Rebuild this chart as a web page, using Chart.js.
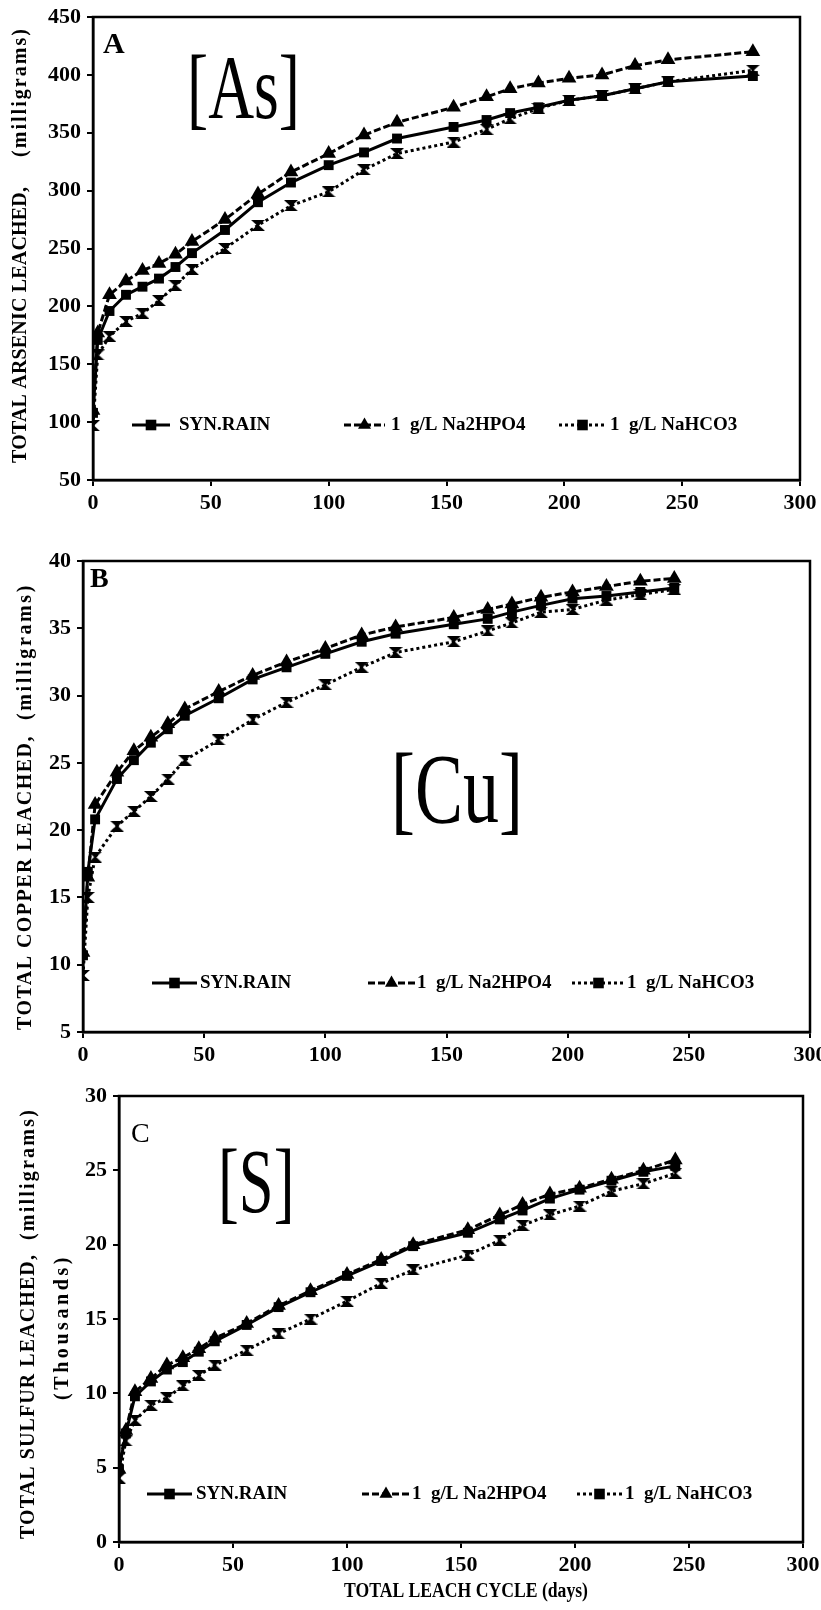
<!DOCTYPE html>
<html>
<head>
<meta charset="utf-8">
<script src="https://cdn.jsdelivr.net/npm/chart.js@4.4.1/dist/chart.umd.min.js"></script>
<style>
  html, body { margin: 0; padding: 0; background: #fff; }
  body { width: 821px; height: 1610px; position: relative; overflow: hidden; }
  .panel { position: absolute; left: 0; }
</style>
</head>
<body>
<div class="panel" style="top:0"><canvas id="chartA" width="821" height="520"></canvas></div>
<div class="panel" style="top:520px"><canvas id="chartB" width="821" height="545"></canvas></div>
<div class="panel" style="top:1065px"><canvas id="chartC" width="821" height="545"></canvas></div>
<script>
// ---- data (days vs cumulative mass leached) ----
const seriesLabels = ['SYN.RAIN', '1  g/L Na2HPO4', '1  g/L NaHCO3'];
const xTicks = [0, 50, 100, 150, 200, 250, 300];

// A: arsenic, mg
const daysA    = [0, 2, 7, 14, 21, 28, 35, 42, 56, 70, 84, 100, 115, 129, 153, 167, 177, 189, 202, 216, 230, 244, 280];
const synRainA = [108, 171, 196, 210, 217, 224, 234, 246, 266, 290, 307, 322, 333, 345, 355, 361, 367, 372, 378, 382, 388, 394, 399];
const na2hpo4A = [110, 177, 210, 222, 231, 237, 245, 256, 275, 297, 316, 332, 348, 359, 372, 381, 388, 393, 397, 400, 408, 413, 420];
const nahco3A  = [97, 158, 174, 187, 194, 205, 218, 232, 250, 270, 287, 299, 318, 332, 342, 353, 362, 371, 378, 382, 388, 394, 404];

// B: copper, mg
const daysB    = [0, 2, 5, 14, 21, 28, 35, 42, 56, 70, 84, 100, 115, 129, 153, 167, 177, 189, 202, 216, 230, 244];
const synRainB = [10.7, 16.9, 20.8, 23.8, 25.2, 26.5, 27.5, 28.5, 29.8, 31.2, 32.1, 33.1, 34.0, 34.6, 35.3, 35.7, 36.2, 36.7, 37.2, 37.4, 37.7, 38.0];
const na2hpo4B = [10.9, 16.5, 21.9, 24.3, 25.9, 26.9, 27.9, 29.0, 30.3, 31.5, 32.5, 33.5, 34.5, 35.1, 35.8, 36.4, 36.8, 37.3, 37.7, 38.1, 38.5, 38.7];
const nahco3B  = [9.2, 15.0, 18.0, 20.3, 21.4, 22.5, 23.8, 25.2, 26.7, 28.2, 29.5, 30.8, 32.1, 33.2, 34.0, 34.8, 35.4, 36.2, 36.4, 37.1, 37.5, 37.9];

// C: sulfur, thousands of mg
const daysC    = [0, 3, 7, 14, 21, 28, 35, 42, 56, 70, 84, 100, 115, 129, 153, 167, 177, 189, 202, 216, 230, 244];
const synRainC = [4.9, 7.3, 9.8, 10.8, 11.6, 12.1, 12.8, 13.5, 14.6, 15.8, 16.8, 17.9, 18.9, 19.9, 20.8, 21.7, 22.3, 23.1, 23.7, 24.3, 24.9, 25.3];
const na2hpo4C = [4.9, 7.5, 10.1, 11.0, 11.9, 12.4, 13.0, 13.7, 14.7, 15.9, 16.9, 18.0, 19.0, 20.0, 21.0, 22.0, 22.7, 23.4, 23.8, 24.4, 25.0, 25.7];
const nahco3C  = [4.3, 6.8, 8.2, 9.2, 9.7, 10.5, 11.2, 11.9, 12.9, 14.0, 15.0, 16.2, 17.4, 18.3, 19.3, 20.3, 21.3, 22.0, 22.6, 23.6, 24.1, 24.8];

const SERIF = '"Liberation Serif", "Times New Roman", Tinos, "DejaVu Serif", serif';

// hourglass marker used by the NaHCO3 curve
function hourglass(w, h) {
  const c = document.createElement('canvas');
  c.width = w; c.height = h;
  const g = c.getContext('2d');
  g.fillStyle = '#000';
  g.beginPath();
  g.moveTo(0, 0); g.lineTo(w, 0); g.lineTo(w / 2 + 1, h / 2);
  g.lineTo(w, h); g.lineTo(0, h); g.lineTo(w / 2 - 1, h / 2);
  g.closePath(); g.fill();
  return c;
}
const hgMark = hourglass(14, 11);

const lineStyles = [
  { dash: [],     point: 'rect',     radius: 7 },
  { dash: [7, 3], point: 'triangle', radius: 8.5 },
  { dash: [3, 3], point: hgMark,     radius: 7 },
];
const legendPoints = ['rect', 'triangle', 'rect'];

function makeDatasets(days, seriesVals) {
  return seriesVals.map((vals, i) => ({
    label: seriesLabels[i],
    data: days.map((d, k) => ({ x: d, y: vals[k] })),
    showLine: true,
    borderColor: '#000',
    backgroundColor: '#000',
    borderWidth: 3,
    borderDash: lineStyles[i].dash,
    pointStyle: lineStyles[i].point,
    pointRadius: lineStyles[i].radius,
    pointBorderWidth: 0,
    tension: 0,
  }));
}

// text squeezed or spread to run exactly from a to b (vertical when rotated)
function fitText(ctx, text, font, x, y, len, rotate) {
  ctx.save();
  ctx.font = font;
  ctx.translate(x, y);
  if (rotate) ctx.rotate(-Math.PI / 2);
  const w = ctx.measureText(text).width;
  if (w > len) {
    ctx.scale(len / w, 1);
  } else {
    ctx.letterSpacing = ((len - w) / text.length).toFixed(2) + 'px';
  }
  ctx.textAlign = 'left';
  ctx.textBaseline = 'middle';
  ctx.fillText(text, 0, 0);
  ctx.restore();
}

// frame box, axis titles, panel letter, element tag and in-plot legend
const decor = {
  id: 'decor',
  afterDatasetsDraw(chart, args, o) {
    const { ctx, chartArea: a } = chart;
    ctx.save();
    ctx.strokeStyle = '#000';
    ctx.fillStyle = '#000';
    ctx.lineWidth = 2.5;
    ctx.strokeRect(a.left, a.top, a.right - a.left, a.bottom - a.top);

    o.titles.forEach(t => {
      if (t.rot) fitText(ctx, t.text, t.font, t.x, t.y0, t.y0 - t.y1, true);
      else fitText(ctx, t.text, t.font, t.x0, t.y, t.x1 - t.x0, false);
    });

    ctx.textBaseline = 'alphabetic';
    ctx.font = o.letterFont;
    ctx.fillText(o.letter, o.letterX, o.letterY);

    ctx.save();
    ctx.translate(o.tagX, o.tagY);
    ctx.scale(o.tagScale, 1);
    ctx.font = o.tagFont;
    ctx.fillText(o.tag, 0, 0);
    ctx.restore();

    // legend
    ctx.font = 'bold 19px ' + SERIF;
    ctx.textBaseline = 'middle';
    o.legend.forEach((it, i) => {
      const ds = chart.data.datasets[i];
      ctx.lineWidth = 3;
      ctx.setLineDash(ds.borderDash);
      ctx.beginPath();
      ctx.moveTo(it[0], o.legendY);
      ctx.lineTo(it[1], o.legendY);
      ctx.stroke();
      ctx.setLineDash([]);
      Chart.helpers.drawPoint(ctx, { pointStyle: legendPoints[i], radius: 7.5, rotation: 0, borderWidth: 0 },
        (it[0] + it[1]) / 2, o.legendY);
      ctx.fillText(ds.label, it[2], o.legendY);
    });
    ctx.restore();
  }
};

function makeChart(id, cfg) {
  const tickFont = { family: SERIF, size: 22, weight: 'bold' };
  return new Chart(document.getElementById(id), {
    type: 'scatter',
    data: { datasets: makeDatasets(cfg.days, cfg.series) },
    plugins: [decor],
    options: {
      responsive: false,
      animation: false,
      layout: { padding: { top: cfg.area.top, right: 821 - cfg.area.right, left: 0, bottom: 0 } },
      plugins: {
        legend: { display: false },
        tooltip: { enabled: false },
        decor: cfg.decor,
      },
      scales: {
        x: {
          type: 'linear', min: 0, max: 300,
          afterBuildTicks: s => { s.ticks = xTicks.map(v => ({ value: v })); },
          afterFit: s => { s.height = cfg.height - cfg.area.bottom; s.paddingLeft = 0; s.paddingRight = 0; },
          grid: { display: true, drawOnChartArea: false, drawTicks: true, tickLength: 6, color: '#000', lineWidth: 2 },
          border: { display: true, color: '#000', width: 2.5 },
          ticks: { color: '#000', font: tickFont, padding: 4, maxRotation: 0, autoSkip: false },
        },
        y: {
          min: cfg.yMin, max: cfg.yMax,
          ticks: { stepSize: cfg.yStep, color: '#000', font: tickFont, padding: 6 },
          afterFit: s => { s.width = cfg.area.left; s.paddingTop = 0; s.paddingBottom = 0; },
          grid: { display: true, drawOnChartArea: false, drawTicks: true, tickLength: 6, color: '#000', lineWidth: 2 },
          border: { display: true, color: '#000', width: 2.5 },
        },
      },
    },
  });
}

const TF = 'bold 20px ' + SERIF;

makeChart('chartA', {
  days: daysA, series: [synRainA, na2hpo4A, nahco3A],
  height: 520, area: { left: 93, top: 17, right: 800, bottom: 480 },
  yMin: 50, yMax: 450, yStep: 50,
  decor: {
    titles: [
      { rot: true, text: 'TOTAL ARSENIC LEACHED,', font: TF, x: 21, y0: 463, y1: 187 },
      { rot: true, text: '(milligrams)', font: TF, x: 21, y0: 157, y1: 27 },
    ],
    letter: 'A', letterFont: 'bold 30px ' + SERIF, letterX: 103, letterY: 53,
    tag: '[As]', tagFont: '92px ' + SERIF, tagX: 187, tagY: 118, tagScale: 0.69,
    legendY: 425, legend: [[132, 170, 179], [344, 385, 391], [559, 606, 610]],
  },
});

makeChart('chartB', {
  days: daysB, series: [synRainB, na2hpo4B, nahco3B],
  height: 545, area: { left: 83, top: 41, right: 810, bottom: 512 },
  yMin: 5, yMax: 40, yStep: 5,
  decor: {
    titles: [
      { rot: true, text: 'TOTAL COPPER LEACHED,', font: TF, x: 26, y0: 510, y1: 215 },
      { rot: true, text: '(milligrams)', font: TF, x: 26, y0: 200, y1: 63 },
    ],
    letter: 'B', letterFont: 'bold 28px ' + SERIF, letterX: 90, letterY: 67,
    tag: '[Cu]', tagFont: '100px ' + SERIF, tagX: 391, tagY: 302, tagScale: 0.72,
    legendY: 463, legend: [[152, 197, 200], [368, 415, 417], [572, 625, 627]],
  },
});

makeChart('chartC', {
  days: daysC, series: [synRainC, na2hpo4C, nahco3C],
  height: 545, area: { left: 119, top: 31, right: 803, bottom: 477 },
  yMin: 0, yMax: 30, yStep: 5,
  decor: {
    titles: [
      { rot: true, text: 'TOTAL SULFUR LEACHED,', font: TF, x: 29, y0: 474, y1: 189 },
      { rot: true, text: '(milligrams)', font: TF, x: 29, y0: 175, y1: 43 },
      { rot: true, text: '(Thousands)', font: TF, x: 63, y0: 335, y1: 189 },
      { rot: false, text: 'TOTAL LEACH CYCLE (days)', font: TF, x0: 344, x1: 588, y: 527 },
    ],
    letter: 'C', letterFont: '28px ' + SERIF, letterX: 131, letterY: 77,
    tag: '[S]', tagFont: '92px ' + SERIF, tagX: 218, tagY: 147, tagScale: 0.68,
    legendY: 429, legend: [[147, 192, 196], [362, 410, 412], [577, 622, 625]],
  },
});
</script>
</body>
</html>
